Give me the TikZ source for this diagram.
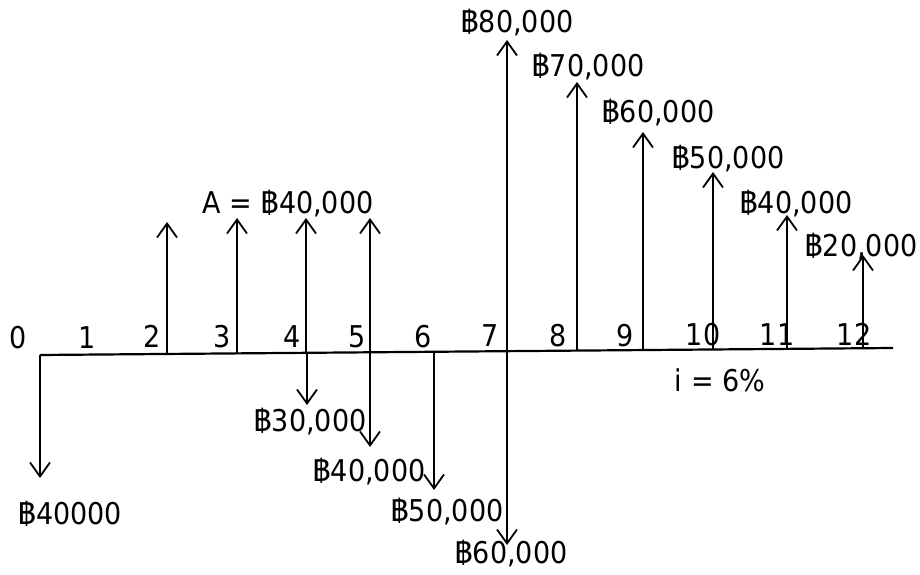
\documentclass[tikz,border=0pt]{standalone}
\usepackage{fontspec}
\setmainfont{DejaVu Sans Condensed}
\newfontfamily\thaifont[Script=Thai]{Loma}
\usetikzlibrary{arrows.meta}
\newcommand{\baht}{{\thaifont ฿}}

\begin{document}
\begin{tikzpicture}[x=1pt, y=-1pt,
    axis/.style={line width=2.2pt},
    flow/.style={line width=2.2pt, -{Straight Barb[length=14pt,width=20pt,line width=1.8pt]}},
    lbl/.style={font=\fontsize{30}{34}\selectfont, inner sep=0pt, anchor=base}
]
\useasboundingbox (0,0) rectangle (920,575);

% Time axis
\coordinate (start) at (40,355);
\coordinate (end) at (893,348);
\draw[axis] (start) -- (end);

% Period numbers (baselines)
\foreach \n/\x/\y in {0/18/348, 1/87/348, 2/152/347, 3/222/347, 4/292/347,
    5/357/347, 6/423/347, 7/490/346, 8/558/346, 9/625/346, 10/703/345,
    11/777/345, 12/854/345}
    \node[lbl] (t\n) at (\x,\y) {\n};

% Receipts (up)
\foreach \n/\x/\yb/\yt in {2/167/354/222, 3/237/353/218, 4/306/353/218,
    5/370/352/218, 7/507/351/40, 8/577/350/82, 9/643/350/132,
    10/713/349/172, 11/787/349/215, 12/863/348/255}
{
    \coordinate (ub\n) at (\x,\yb);
    \coordinate (ut\n) at (\x,\yt);
    \draw[flow] (ub\n) -- (ut\n);
}

% Payments (down)
\foreach \n/\x/\yb/\yt in {0/40/355/478, 4/307/353/405, 5/370/352/447,
    6/434/352/490, 7/507/351/545}
{
    \coordinate (db\n) at (\x,\yb);
    \coordinate (dt\n) at (\x,\yt);
    \draw[flow] (db\n) -- (dt\n);
}

% Labels above
\node[lbl] (r7) at (517,33) {\baht80,000};
\node[lbl] (r8) at (588,77) {\baht70,000};
\node[lbl] (r9) at (658,123) {\baht60,000};
\node[lbl] (r10) at (728,168) {\baht50,000};
\node[lbl] (r11) at (796,213) {\baht40,000};
\node[lbl] (r12) at (861,256) {\baht20,000};
\node[lbl] (annuity) at (288,213) {A = \baht40,000};

% Labels below
\node[lbl] (p0) at (70,524) {\baht40000};
\node[lbl] (p4) at (310,431) {\baht30,000};
\node[lbl] (p5) at (369,481) {\baht40,000};
\node[lbl] (p6) at (447,521) {\baht50,000};
\node[lbl] (p7) at (511,563) {\baht60,000};

% Interest rate
\node[lbl] (rate) at (720,391) {i = 6\%};

\end{tikzpicture}
\end{document}
